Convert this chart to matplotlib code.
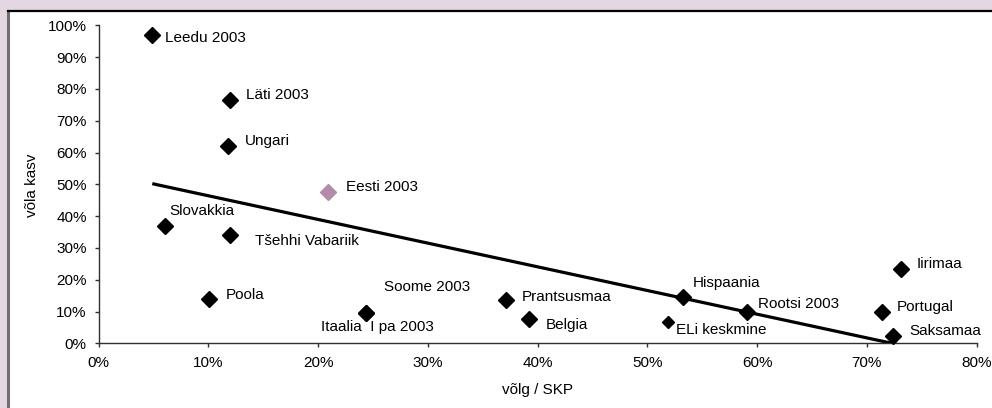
import numpy as np
import matplotlib
matplotlib.use("Agg")
import matplotlib.pyplot as plt
from matplotlib.patches import Rectangle
from matplotlib.lines import Line2D
from matplotlib.ticker import FuncFormatter

plt.rcParams['font.family'] = ['Liberation Sans', 'DejaVu Sans']

# ---- data (percent) ----
countries = ["Leedu 2003", "Läti 2003", "Ungari", "Slovakkia", "Tšehhi Vabariik",
             "Poola", "Soome 2003", "Itaalia  I pa 2003", "Prantsusmaa", "Belgia",
             "ELi keskmine", "Hispaania", "Rootsi 2003", "Portugal", "Iirimaa", "Saksamaa"]
debt_gdp = [4.9, 12.0, 11.8, 6.1, 12.0, 10.1, 24.4, 24.4, 37.1, 39.2,
            51.9, 53.3, 59.1, 71.4, 73.1, 72.4]
debt_growth = [96.9, 76.6, 62.2, 36.9, 34.1, 13.9, 9.5, 9.4, 13.6, 7.6,
               6.6, 14.7, 10.0, 10.0, 23.3, 2.3]

estonia_label = "Eesti 2003"
estonia_debt_gdp = [20.9]
estonia_growth = [47.7]

# linear trend line (start / end values)
trend_x = [4.9, 73.1]
trend_y = [50.2, -0.6]

x_ticks = [0, 10, 20, 30, 40, 50, 60, 70, 80]
y_ticks = [0, 10, 20, 30, 40, 50, 60, 70, 80, 90, 100]
x_title = "võlg / SKP"
y_title = "võla kasv"

# ---- layout (label offsets in pixels) ----
label_offsets = {
    "Leedu 2003": (13, -3), "Läti 2003": (16, 5), "Ungari": (17, 5),
    "Slovakkia": (4, 15), "Tšehhi Vabariik": (25, -6), "Poola": (16, 4),
    "Soome 2003": (18, 26), "Itaalia  I pa 2003": (-45, -14),
    "Prantsusmaa": (16, 3), "Belgia": (17, -6), "ELi keskmine": (8, -8),
    "Hispaania": (9, 14), "Rootsi 2003": (11, 7), "Portugal": (15, 5),
    "Iirimaa": (16, 5), "Saksamaa": (16, 5), "Eesti 2003": (18, 5),
}
FS = 11

W, H = 992, 408
fig = plt.figure(figsize=(W / 100, H / 100), dpi=100)
fig.patch.set_facecolor('#E4D7E1')

# white panel
fig.patches.append(Rectangle((7.5 / W, 0), 1, 1 - 11 / H, transform=fig.transFigure,
                             facecolor='white', edgecolor='none', zorder=-5))
fig.add_artist(Line2D([7.5 / W, 7.5 / W], [0, 1 - 11 / H], transform=fig.transFigure,
                      color='#707070', lw=2.2, zorder=-4))
fig.add_artist(Line2D([7.5 / W, 1], [1 - 11 / H, 1 - 11 / H], transform=fig.transFigure,
                      color='black', lw=1.6, zorder=-4))

x0, x1 = 98.5, 976.5
ytop, ybot = 25.3, 343.3
ax = fig.add_axes([x0 / W, (H - ybot) / H, (x1 - x0) / W, (ybot - ytop) / H])
ax.set_facecolor('none')
ax.set_xlim(0, 80)
ax.set_ylim(0, 100)

for s in ['top', 'right']:
    ax.spines[s].set_visible(False)
for s in ['left', 'bottom']:
    ax.spines[s].set_color('#303030')
    ax.spines[s].set_linewidth(1.0)

ax.set_xticks(x_ticks)
ax.set_yticks(y_ticks)
ax.xaxis.set_major_formatter(FuncFormatter(lambda v, p: f"{v:.0f}%"))
ax.yaxis.set_major_formatter(FuncFormatter(lambda v, p: f"{v:.0f}%"))
ax.tick_params(axis='both', direction='out', length=3, width=1, color='#303030',
               labelsize=FS, labelcolor='black')
ax.tick_params(axis='x', pad=6)
ax.tick_params(axis='y', pad=5.5)

# trend line
ax.plot(trend_x, trend_y, color='black', lw=2.3, zorder=2, solid_capstyle='butt')

# markers
sizes = [7.8 if c != "ELi keskmine" else 5.8 for c in countries]
for c, xv, yv, ms in zip(countries, debt_gdp, debt_growth, sizes):
    ax.plot([xv], [yv], marker='D', ms=ms, color='black', ls='none', zorder=3,
            clip_on=False)
ax.plot(estonia_debt_gdp, estonia_growth, marker='D', ms=7.8, color='#B48BA8',
        ls='none', zorder=3)

for c, xv, yv in zip(countries + [estonia_label], debt_gdp + estonia_debt_gdp,
                     debt_growth + estonia_growth):
    dx, dy = label_offsets[c]
    ax.annotate(c, (xv, yv), xytext=(dx, dy), textcoords='offset pixels',
                ha='left', va='center', fontsize=FS, color='black', zorder=4)

fig.text((x0 + x1) / 2 / W, 1 - 390 / H, x_title, ha='center', va='center', fontsize=FS)
fig.text(32 / W, 1 - 185 / H, y_title, ha='center', va='center', fontsize=FS,
         rotation=90)

fig.savefig("out.png", dpi=100, facecolor=fig.get_facecolor())
